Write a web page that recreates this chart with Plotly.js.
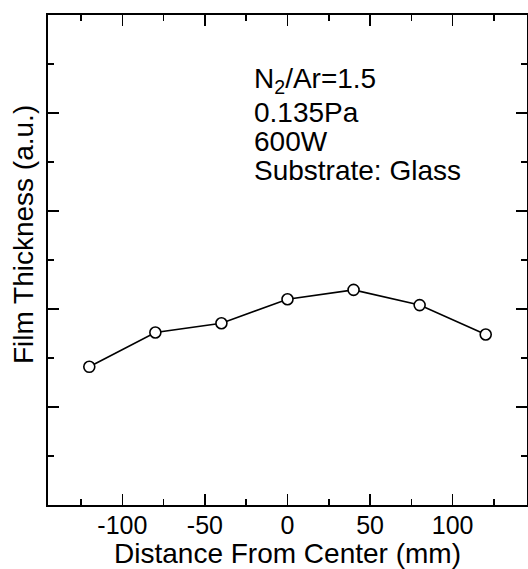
<!DOCTYPE html>
<html>
<head>
<meta charset="utf-8">
<script src="https://cdn.plot.ly/plotly-3.0.1.min.js"></script>
<style>html,body{margin:0;padding:0;background:#fff;}</style>
</head>
<body>
<div id="chart" style="width:528px;height:569px;"></div>
<script>
// Data
const distance = [-120, -80, -40, 0, 40, 80, 120];            // mm
const thickness = [2.82, 3.52, 3.71, 4.20, 4.39, 4.08, 3.48];  // a.u.
const noteLines = ["N<sub>2</sub>/Ar=1.5", "0.135Pa", "600W", "Substrate: Glass"];
const noteY = [8.67, 8.01, 7.42, 6.83];
const xTickVals = [-100, -50, 0, 50, 100];
const xTickText = ["-100", "-50", "0", "50", "100"];
const xTitle = "Distance From Center (mm)";
const yTitle = "Film Thickness (a.u.)";

const FONT = "Liberation Sans, Arial, Helvetica, sans-serif";

const trace = {
  x: distance,
  y: thickness,
  type: "scatter",
  mode: "lines+markers",
  line: {color: "#000", width: 1.6},
  marker: {symbol: "circle", size: 11, color: "#fff", line: {color: "#000", width: 1.6}},
  showlegend: false,
  hoverinfo: "skip"
};

const annotations = noteLines.map((t, i) => ({
  text: t, x: -21, y: noteY[i], xref: "x", yref: "y",
  xanchor: "left", yanchor: "middle", showarrow: false, borderpad: 0,
  font: {family: FONT, size: 28, color: "#000"}
}));
// y-axis title (placed slightly above the plot centre, as in the reference)
annotations.push({
  text: yTitle, textangle: -90, xref: "paper", yref: "paper",
  x: -0.052, y: 0.551, xanchor: "center", yanchor: "middle", showarrow: false,
  font: {family: FONT, size: 28, color: "#000"}
});

const layout = {
  width: 528, height: 569,
  margin: {l: 48, r: 1, t: 15, b: 64},
  paper_bgcolor: "#fff", plot_bgcolor: "#fff",
  font: {family: FONT, color: "#000"},
  xaxis: {
    range: [-145, 145],
    tickmode: "array", tickvals: xTickVals, ticktext: xTickText,
    ticks: "inside", ticklen: 11, tickwidth: 1.6, tickcolor: "#000",
    minor: {dtick: 25, tick0: 0, ticks: "inside", ticklen: 6, tickwidth: 1.6, tickcolor: "#000"},
    showline: true, linecolor: "#000", linewidth: 2, mirror: "allticks",
    showgrid: false, zeroline: false,
    tickfont: {family: FONT, size: 25, color: "#000"},
    ticklabelstandoff: -3,
    title: {text: xTitle, font: {family: FONT, size: 28, color: "#000"}, standoff: 7}
  },
  yaxis: {
    range: [0, 10],
    tick0: 0, dtick: 2,
    ticks: "inside", ticklen: 11, tickwidth: 1.6, tickcolor: "#000",
    minor: {dtick: 1, tick0: 0, ticks: "inside", ticklen: 6, tickwidth: 1.6, tickcolor: "#000"},
    showline: true, linecolor: "#000", linewidth: 2, mirror: "allticks",
    showgrid: false, zeroline: false,
    showticklabels: false
  },
  annotations: annotations
};

Plotly.newPlot("chart", [trace], layout, {staticPlot: true, displayModeBar: false});
</script>
</body>
</html>
